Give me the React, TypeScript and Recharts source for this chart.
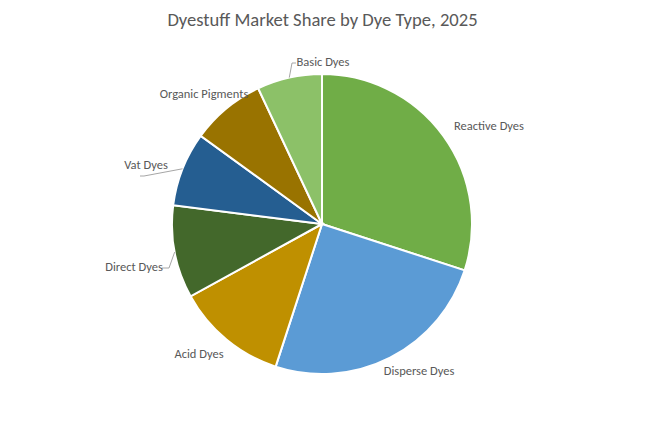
import React from "react";
import { PieChart, Pie, Cell } from "recharts";

// Dye types, clockwise from 12 o'clock
const dyeTypes = [
  "Reactive Dyes",
  "Disperse Dyes",
  "Acid Dyes",
  "Direct Dyes",
  "Vat Dyes",
  "Organic Pigments",
  "Basic Dyes",
];

// Market share, %
const sharePct = [30, 25, 12, 10, 8, 8, 7];

const sliceColors = [
  "#70AD47",
  "#5B9BD5",
  "#BF9000",
  "#43682B",
  "#255E91",
  "#997300",
  "#8CC168",
];

const chartData = dyeTypes.map((name, i) => ({ name, value: sharePct[i] }));

const CX = 322;
const CY = 224;
const RADIUS = 150;
const RAD = Math.PI / 180;
const FONT = "Carlito, Calibri, 'Liberation Sans', sans-serif";

// label text centre, relative to pie centre
const labelSpot: Record<string, [number, number]> = {
  "Reactive Dyes": [167, -99],
  "Disperse Dyes": [97, 146],
  "Acid Dyes": [-123, 129],
  "Direct Dyes": [-188, 42],
  "Vat Dyes": [-176, -60],
  "Organic Pigments": [-118, -131],
  "Basic Dyes": [1, -163],
};

// leader lines: elbow then end point, relative to pie centre
const leaders: Record<string, [number, number, number, number]> = {
  "Basic Dyes": [-30, -161, -26, -161],
  "Vat Dyes": [-178, -48, -182, -48],
  "Direct Dyes": [-153, 44, -160, 44],
};

const renderLabel = (props: any) => {
  const { cx, cy, midAngle, outerRadius, name } = props;
  const [dx, dy] = labelSpot[name] || [0, 0];
  const leader = leaders[name];
  let line = null;
  if (leader) {
    const ex = cx + outerRadius * Math.cos(-midAngle * RAD);
    const ey = cy + outerRadius * Math.sin(-midAngle * RAD);
    line = (
      <polyline
        points={`${ex},${ey} ${cx + leader[0]},${cy + leader[1]} ${cx + leader[2]},${cy + leader[3]}`}
        fill="none"
        stroke="#A6A6A6"
        strokeWidth={1}
      />
    );
  }
  return (
    <g>
      {line}
      <text
        x={cx + dx}
        y={cy + dy}
        textAnchor="middle"
        dominantBaseline="central"
        fill="#595959"
        fontSize={12.5}
        fontFamily={FONT}
      >
        {name}
      </text>
    </g>
  );
};

export default function App() {
  return (
    <div
      style={{
        position: "absolute",
        left: 0,
        top: 0,
        width: 645,
        height: 422,
        background: "#fff",
      }}
    >
      <div
        style={{
          position: "absolute",
          top: 7,
          left: 0,
          width: 645,
          textAlign: "center",
          fontFamily: FONT,
          fontSize: 18.6,
          lineHeight: "26px",
          color: "#595959",
        }}
      >
        Dyestuff Market Share by Dye Type, 2025
      </div>
      <PieChart
        width={645}
        height={422}
        margin={{ top: 0, right: 0, bottom: 0, left: 0 }}
        style={{ position: "absolute", left: 0, top: 0 }}
      >
        <Pie
          data={chartData}
          dataKey="value"
          nameKey="name"
          cx={CX}
          cy={CY}
          outerRadius={RADIUS}
          startAngle={90}
          endAngle={-270}
          stroke="#fff"
          strokeWidth={2}
          label={renderLabel}
          labelLine={false}
          isAnimationActive={false}
        >
          {chartData.map((d, i) => (
            <Cell key={d.name} fill={sliceColors[i]} />
          ))}
        </Pie>
      </PieChart>
    </div>
  );
}
